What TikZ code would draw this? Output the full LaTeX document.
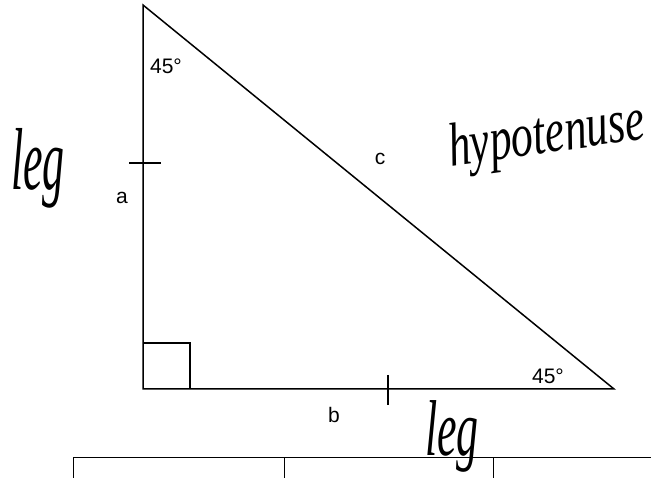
\documentclass[tikz,border=0pt]{standalone}
\usepackage{fontspec}
\setmainfont{Liberation Sans}
\newfontfamily\handfont{Liberation Serif}
\usetikzlibrary{positioning}

\begin{document}
\begin{tikzpicture}[x=1pt,y=-1pt,
  edge/.style={line width=1.5pt,line join=miter},
  tickmark/.style={line width=2.6pt},
  lbl/.style={font=\fontsize{21}{21}\selectfont,inner sep=0pt},
  hand/.style={font=\handfont\itshape\fontsize{44}{44}\selectfont,inner sep=0pt}]
  \useasboundingbox (0,0) rectangle (651,478);

  % Triangle
  \coordinate (top) at (143,5);
  \coordinate (corner) at (143,389);
  \coordinate (right) at (614,389);
  \draw[edge] (top) -- (corner) -- (right) -- cycle;

  % Right angle box
  \coordinate (boxtop) at (143,343);
  \coordinate (boxright) at (190,389);
  \draw[line width=1.2pt] (boxtop) -| (boxright);

  % Tick marks on the legs
  \coordinate (ticka) at (143,163);
  \coordinate (tickb) at (388,389);
  \draw[tickmark] ([xshift=-14pt]ticka) -- ([xshift=18pt]ticka);
  \draw[line width=2pt] ([yshift=14pt]tickb) -- ([yshift=-16pt]tickb);

  % Printed labels
  \node[lbl] (angletop) at (166,66) {45°};
  \node[lbl] (angleright) at (548,376) {45°};
  \node[lbl] (sidea) at (122,198) {a};
  \node[lbl] (sideb) at (334,415) {b};
  \node[lbl] (sidec) at (380,159) {c};

  % Handwritten notes
  \node[hand,yscale=2] (legleft) at (38,168) {leg};
  \node[hand,rotate=8,yscale=1.4] (hyp) at (547,138) {hypotenuse};
  \node[hand,yscale=1.8] (legbottom) at (452,436) {leg};

  % Table below
  \coordinate (tabl) at (73,457);
  \coordinate (tabm) at (284,457);
  \coordinate (tabn) at (493,457);
  \coordinate (tabr) at (651,457);
  \draw[line width=1pt] (tabl) -- (tabr);
  \draw[line width=1pt] (tabl) -- ++(0,21);
  \draw[line width=1pt] (tabm) -- ++(0,21);
  \draw[line width=1pt] (tabn) -- ++(0,21);
\end{tikzpicture}
\end{document}
